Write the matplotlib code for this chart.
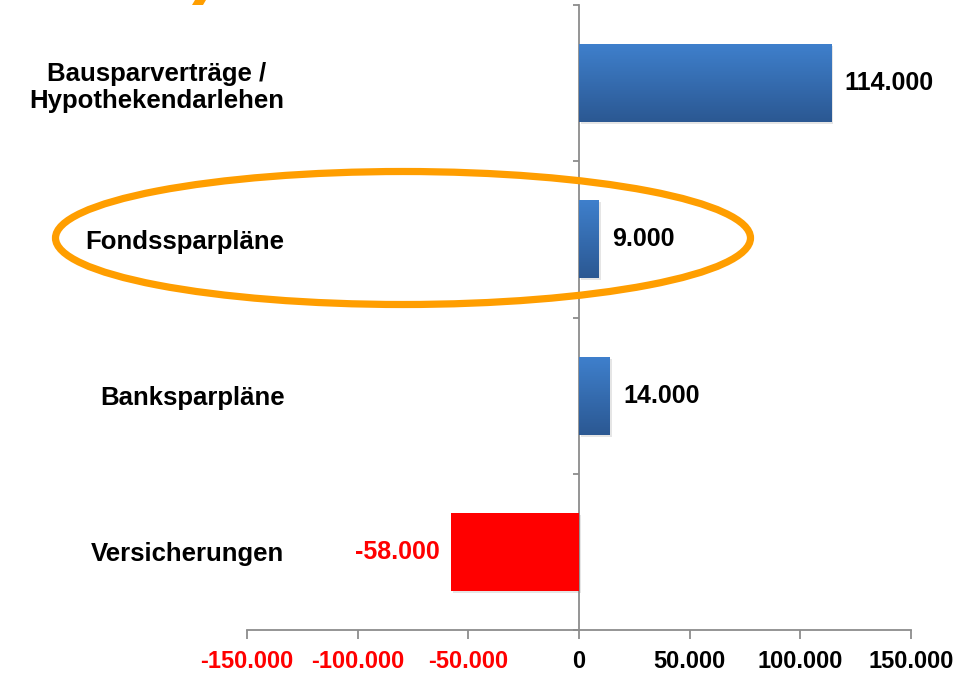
import matplotlib
matplotlib.use("Agg")
import matplotlib.pyplot as plt
import numpy as np
from matplotlib.patches import Ellipse, Polygon
from matplotlib.colors import LinearSegmentedColormap
import matplotlib.transforms as mtransforms

categories = ["Bausparverträge /\nHypothekendarlehen", "Fondssparpläne", "Banksparpläne", "Versicherungen"]
values = [114000, 9000, 14000, -58000]
value_labels = ["114.000", "9.000", "14.000", "-58.000"]
xticks = [-150000, -100000, -50000, 0, 50000, 100000, 150000]
xtick_labels = ["-150.000", "-100.000", "-50.000", "0", "50.000", "100.000", "150.000"]

W, H = 979, 675
plt.rcParams['font.family'] = ['Liberation Sans', 'DejaVu Sans']
fig = plt.figure(figsize=(W / 100, H / 100), dpi=100)
ax = fig.add_axes([247 / W, 1 - 630 / H, (911 - 247) / W, (630 - 5) / H])

ypos = np.arange(len(categories))
ax.set_xlim(-150000, 150000)
ax.set_ylim(3.5, -0.5)

blue_cmap = LinearSegmentedColormap.from_list("b", ["#3F80CD", "#2B5892"])
grad = np.linspace(0, 1, 256).reshape(-1, 1)

bars = ax.barh(ypos, values, height=0.5, color=["#3A75C0" if v >= 0 else "#FF0000" for v in values],
               zorder=3, linewidth=0)
# shadows
shadow_off = mtransforms.ScaledTranslation(2 / 100, -2 / 100, fig.dpi_scale_trans)
for b in bars:
    x0, y0 = b.get_x(), b.get_y()
    w, h = b.get_width(), b.get_height()
    sh = plt.Rectangle((x0, y0), w, h, transform=ax.transData + shadow_off,
                       color="#000000", alpha=0.10, zorder=2, linewidth=0)
    ax.add_patch(sh)
for b, v in zip(bars, values):
    if v >= 0:
        x0, y0 = b.get_x(), b.get_y()
        w, h = b.get_width(), b.get_height()
        im = ax.imshow(grad, cmap=blue_cmap, aspect='auto',
                       extent=[x0, x0 + w, y0 + h, y0], zorder=4, interpolation='bilinear')
        im.set_clip_path(b)
ax.set_xlim(-150000, 150000)
ax.set_ylim(3.5, -0.5)

# value labels
px = 300000 / 664.0
for y, v, lab in zip(ypos, values, value_labels):
    if v >= 0:
        ax.text(v + 13 * px, y, lab, ha='left', va='center', fontsize=18,
                fontweight='bold', color='black', zorder=5)
    else:
        ax.text(v - 11 * px, y, lab, ha='right', va='center', fontsize=18,
                fontweight='bold', color='#FF0000', zorder=5)

# spines
for s in ['top', 'right']:
    ax.spines[s].set_visible(False)
ax.spines['left'].set_position(('data', 0))
ax.spines['left'].set_color('#8C8C8C')
ax.spines['bottom'].set_color('#8C8C8C')
ax.spines['left'].set_linewidth(1.3)
ax.spines['bottom'].set_linewidth(1.3)

ax.set_xticks(xticks)
ax.set_xticklabels(xtick_labels, fontsize=17, fontweight='bold')
for t, v in zip(ax.get_xticklabels(), xticks):
    t.set_color('#FF0000' if v < 0 else 'black')
ax.tick_params(axis='x', direction='out', length=6.5, width=1.3, color='#8C8C8C', pad=8)

ax.set_yticks(ypos)
ax.set_yticklabels(categories, fontsize=18.5, fontweight='bold')
for t in ax.get_yticklabels():
    t.set_multialignment('center')
    t.set_linespacing(1.17)
ax.tick_params(axis='y', which='major', length=0, pad=212)
ax.set_yticks(np.arange(-0.5, 4.0, 1.0), minor=True)
ax.tick_params(axis='y', which='minor', direction='out', length=4.5, width=1.3, color='#8C8C8C')

# orange ellipse highlight (figure pixels)
ell = Ellipse((403 / W, 1 - 238 / H), 695 / W, 133 / H, transform=fig.transFigure,
              fill=False, edgecolor='#FF9E00', linewidth=5.2, zorder=10)
fig.patches.append(ell)

# small orange fragment at top
frag = Polygon([(195 / W, 1.0), (206 / W, 1.0), (203 / W, 1 - 5 / H), (192 / W, 1 - 5 / H)],
               closed=True, transform=fig.transFigure, facecolor='#FF9E00', edgecolor='none')
fig.patches.append(frag)

fig.savefig("out.png", dpi=100)
